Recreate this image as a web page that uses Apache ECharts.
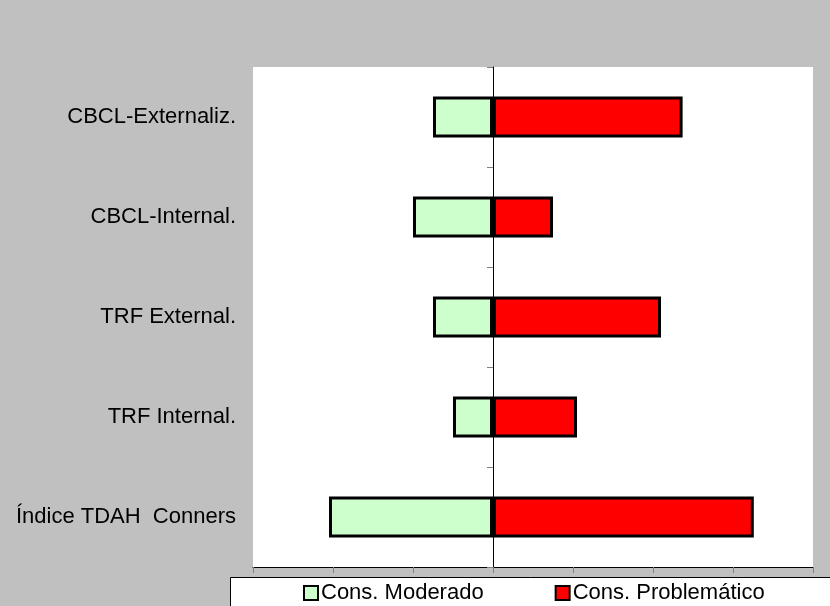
<!DOCTYPE html>
<html>
<head>
<meta charset="utf-8">
<script src="https://cdn.jsdelivr.net/npm/echarts@6/dist/echarts.min.js"></script>
<style>
html,body{margin:0;padding:0;background:#c0c0c0;}
#chart{width:830px;height:606px;}
</style>
</head>
<body>
<div id="chart"></div>
<script>
const categories = ['CBCL-Externaliz.', 'CBCL-Internal.', 'TRF External.', 'TRF Internal.', 'Índice TDAH  Conners'];
const moderado = [-0.75, -1.0, -0.75, -0.5, -2.05];
const problematico = [2.37, 0.75, 2.1, 1.05, 3.26];
const seriesNames = ['Cons. Moderado', 'Cons. Problemático'];

const chart = echarts.init(document.getElementById('chart'), null, {renderer: 'canvas'});
const font = '"Liberation Sans", Arial, sans-serif';
chart.setOption({
  backgroundColor: '#c0c0c0',
  animation: false,
  textStyle: {fontFamily: font},
  grid: {left: 253, right: 17, top: 67, bottom: 39, show: true, backgroundColor: '#ffffff', borderWidth: 0},
  graphic: [{
    type: 'rect', z: 0, left: 230, top: 577,
    shape: {width: 620, height: 40},
    style: {fill: '#ffffff', stroke: '#000000', lineWidth: 1}
  }],
  legend: {
    z: 20,
    left: 303, top: 582, padding: 0,
    itemWidth: 14, itemHeight: 14, itemGap: 71,
    icon: 'rect',
    itemStyle: {borderColor: '#000', borderWidth: 2},
    textStyle: {fontSize: 22, color: '#000', fontFamily: font, padding: [0, 0, 0, -2]},
    data: seriesNames
  },
  xAxis: {
    type: 'value', min: -3, max: 4, interval: 1,
    axisLabel: {show: false},
    splitLine: {show: false},
    axisLine: {show: true, onZero: false, lineStyle: {color: '#000', width: 1}},
    axisTick: {show: true, length: 6, lineStyle: {color: '#808080', width: 1}}
  },
  yAxis: [{
    type: 'category', data: categories, inverse: true, position: 'left',
    axisLine: {show: false, onZero: false},
    axisTick: {show: false},
    axisLabel: {fontSize: 22, color: '#000', margin: 17, fontFamily: font}
  }, {
    type: 'category', data: categories, inverse: true, position: 'left',
    axisLine: {show: true, onZero: true, lineStyle: {color: '#000', width: 1}},
    axisTick: {show: true, length: 6, lineStyle: {color: '#808080', width: 1}},
    axisLabel: {show: false}
  }],
  series: [{
    name: seriesNames[0], type: 'bar', stack: 's', data: moderado, barWidth: 41,
    itemStyle: {color: '#ccffcc', borderColor: '#000', borderWidth: 3}
  }, {
    name: seriesNames[1], type: 'bar', stack: 's', data: problematico, barWidth: 41,
    itemStyle: {color: '#ff0000', borderColor: '#000', borderWidth: 3}
  }]
});
</script>
</body>
</html>
